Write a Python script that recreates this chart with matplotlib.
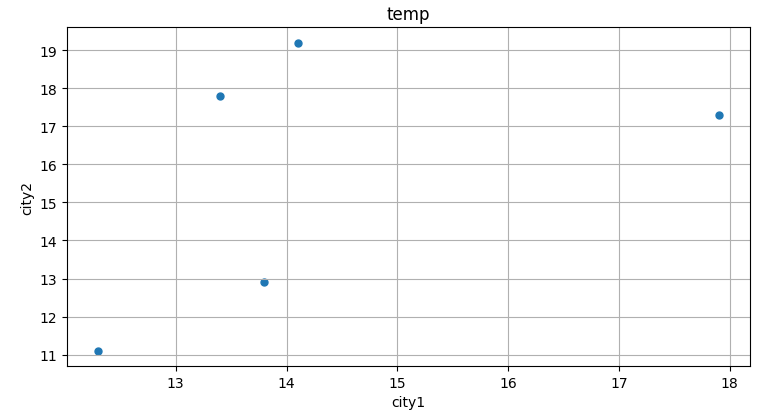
import matplotlib
matplotlib.use("Agg")
import matplotlib.pyplot as plt

# temperatures
city1 = [12.3, 13.4, 13.8, 14.1, 17.9]
city2 = [11.1, 17.8, 12.9, 19.2, 17.3]

fig = plt.figure(figsize=(7.72, 4.14), dpi=100)
ax = fig.add_axes([0.087, 0.113, 0.884, 0.819])

ax.scatter(city1, city2, s=25, color='#1f77b4')

ax.set_title("temp")
ax.set_xlabel("city1")
ax.set_ylabel("city2")
ax.grid(True)

fig.savefig("out.png", dpi=100)
